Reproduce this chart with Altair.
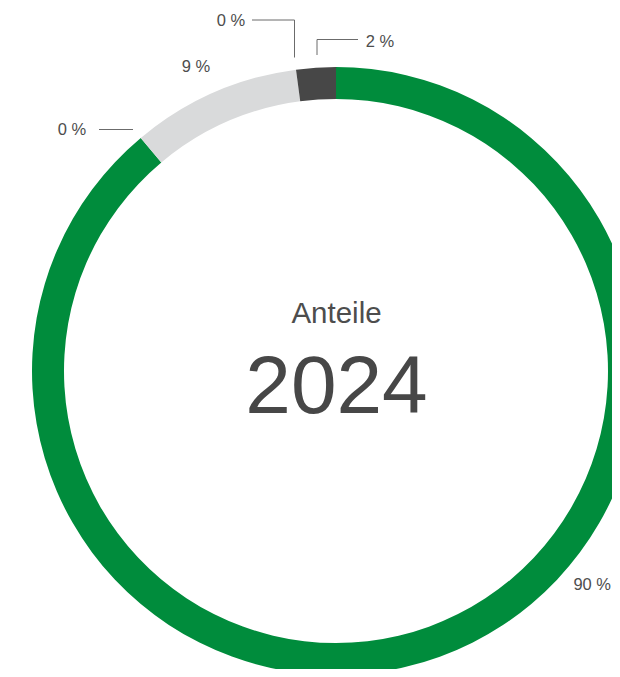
import altair as alt
import pandas as pd

# ---- data ----
categories = ["Anteil A", "Anteil B", "Anteil C", "Anteil D", "Anteil E"]
shares = [88.9, 0.0, 9.0, 0.0, 2.1]
share_labels = ["90 %", "0 %", "9 %", "0 %", "2 %"]
center_title = "Anteile"
center_year = "2024"

# ---- style / layout ----
colors = ["#008c3c", "#bdbdbd", "#d9dadb", "#8a8a8a", "#474747"]
TEXT = "#4d4d4d"
FONT = "Liberation Sans, Arial, Helvetica, sans-serif"
W, H = 604, 661
CX, CY = 328, 363
R_OUT, R_IN = 304, 272

# label anchors (plot coordinates) and alignment per slice
label_layout = [
    (603, 577, "right"),
    (64, 122, "center"),
    (188, 59, "center"),
    (223, 12.5, "center"),
    (372, 33.5, "center"),
]
# leader line segments per slice (plot coordinates)
leader_layout = [
    [],
    [(91, 121.5, 125, 121.5)],
    [],
    [(244, 12, 286.5, 12), (286.5, 12, 286.5, 49.5)],
    [(309, 47, 309, 31.5), (309, 31.5, 350, 31.5)],
]

df = pd.DataFrame({
    "cat": categories,
    "share": shares,
    "order": list(range(len(categories))),
})

lab = pd.DataFrame({
    "label": share_labels,
    "px": [p[0] for p in label_layout],
    "py": [p[1] for p in label_layout],
    "align": [p[2] for p in label_layout],
})

segs = []
for i, lst in enumerate(leader_layout):
    for (x1, y1, x2, y2) in lst:
        segs.append({"i": i, "x1": x1, "y1": y1, "x2": x2, "y2": y2})
seg_df = pd.DataFrame(segs)

ring = alt.Chart(df).mark_arc(radius=R_OUT, radius2=R_IN).encode(
    theta=alt.Theta("share:Q", stack=True),
    color=alt.Color("cat:N", scale=alt.Scale(domain=categories, range=colors), legend=None),
    order=alt.Order("order:Q"),
    x=alt.value(CX),
    y=alt.value(CY),
)


def label_layer(align):
    return alt.Chart(lab[lab["align"] == align]).mark_text(
        align=align, baseline="middle", fontSize=16.5, font=FONT, color=TEXT
    ).encode(
        x=alt.X("px:Q", scale=None, axis=None),
        y=alt.Y("py:Q", scale=None, axis=None),
        text="label:N",
    )


leaders = alt.Chart(seg_df).mark_rule(color="#6b6b6b", strokeWidth=1).encode(
    x=alt.X("x1:Q", scale=None, axis=None),
    y=alt.Y("y1:Q", scale=None, axis=None),
    x2="x2:Q",
    y2="y2:Q",
)

title_df = pd.DataFrame({"t": [center_title], "y": [center_year]})

title_text = alt.Chart(title_df).mark_text(
    align="center", baseline="alphabetic", fontSize=29.5, font=FONT, color=TEXT
).encode(x=alt.value(CX + 0.5), y=alt.value(315), text="t:N")

year_text = alt.Chart(title_df).mark_text(
    align="center", baseline="alphabetic", fontSize=82, font=FONT, color="#474747"
).encode(x=alt.value(CX + 0.5), y=alt.value(405), text="y:N")

chart = alt.layer(
    ring, leaders, label_layer("right"), label_layer("center"), title_text, year_text
).properties(
    width=W, height=H, padding=0,
    autosize=alt.AutoSizeParams(type="none"),
).configure_view(stroke=None).resolve_scale(x="independent", y="independent")

chart.save("out.html", embed_options={"renderer": "svg", "actions": False})
